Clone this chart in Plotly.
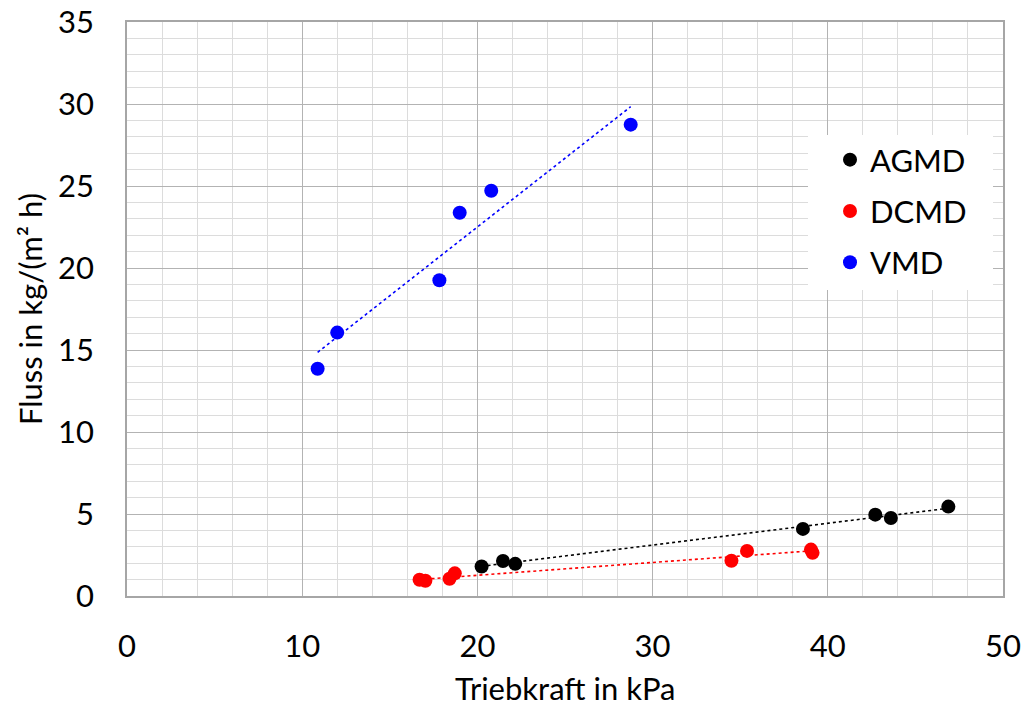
import numpy as np
import plotly.graph_objects as go

# Data
agmd_x = [20.24, 21.46, 22.16, 38.58, 42.71, 43.60, 46.88]
agmd_y = [1.80, 2.13, 1.96, 4.09, 4.96, 4.76, 5.45]

dcmd_x = [16.70, 17.03, 18.41, 18.71, 34.50, 35.39, 39.04, 39.13]
dcmd_y = [0.99, 0.93, 1.05, 1.38, 2.15, 2.75, 2.83, 2.63]

vmd_x = [10.88, 12.00, 17.83, 18.99, 20.79, 28.75]
vmd_y = [13.86, 16.06, 19.25, 23.37, 24.71, 28.74]

series_names = ["AGMD", "DCMD", "VMD"]
series_colors = ["#000000", "#ff0000", "#0000ff"]
x_ticks = [0, 10, 20, 30, 40, 50]
y_ticks = [0, 5, 10, 15, 20, 25, 30, 35]
x_title = "Triebkraft in kPa"
y_title = "Fluss in kg/(m² h)"

FONT = "Lato"
FS = 31
fig = go.Figure()

data = [(agmd_x, agmd_y), (dcmd_x, dcmd_y), (vmd_x, vmd_y)]

# trendlines (linear least squares)
for (xs, ys), name, col in zip(data, series_names, series_colors):
    xs_a = np.array(xs)
    ys_a = np.array(ys)
    k, d = np.polyfit(xs_a, ys_a, 1)
    xl = np.array([xs_a.min(), xs_a.max()])
    fig.add_trace(go.Scatter(
        x=xl, y=k * xl + d, mode="lines",
        line=dict(color=col, width=1.6, dash="dot"),
        showlegend=False, hoverinfo="skip"))

for (xs, ys), name, col in zip(data, series_names, series_colors):
    fig.add_trace(go.Scatter(
        x=xs, y=ys, mode="markers", name=name, legendgroup=name,
        marker=dict(color=col, size=14, line=dict(width=0))))

major = "#b3b3b3"
minor = "#dcdcdc"
axis_col = "#a6a6a6"

W, H = 1025, 706
L, T, R, B = 127, 22, 22, 110
pw = W - L - R
ph = H - T - B

def px(xp):  # pixel x -> paper x
    return (xp - L) / pw

def py(yp):  # pixel y -> paper y
    return 1 - (yp - T) / ph

fig.add_shape(type="rect", xref="paper", yref="paper",
              x0=px(808), x1=px(993), y0=py(290), y1=py(135),
              fillcolor="white", line=dict(width=0), layer="above")

fig.add_annotation(text=x_title, xref="paper", yref="paper",
                   x=0.5, y=py(688), xanchor="center", yanchor="middle",
                   showarrow=False, font=dict(family=FONT, size=FS, color="#000000"))

fig.update_layout(
    width=W, height=H,
    margin=dict(l=L, r=R, t=T, b=B, autoexpand=False),
    paper_bgcolor="white", plot_bgcolor="white",
    font=dict(family=FONT, size=FS, color="#000000"),
    showlegend=True,
    legend=dict(
        x=px(830), y=py(133), xanchor="left", yanchor="top",
        bgcolor="rgba(255,255,255,0)", borderwidth=0,
        font=dict(family=FONT, size=FS, color="#000000"),
        traceorder="grouped", tracegroupgap=8,
        itemsizing="trace",
    ),
    xaxis=dict(
        range=[0, 50], tickvals=x_ticks, ticks="", showline=True,
        linecolor=axis_col, linewidth=1.5, mirror=True,
        showgrid=True, gridcolor=major, gridwidth=1,
        zeroline=False,
        minor=dict(dtick=2, showgrid=True, gridcolor=minor, gridwidth=1),
        ticklabelstandoff=22, ticklabeloverflow="allow",
        tickfont=dict(family=FONT, size=FS),
        automargin=False,
    ),
    yaxis=dict(
        range=[0, 35], tickvals=y_ticks, ticks="", showline=True,
        linecolor=axis_col, linewidth=1.5, mirror=True,
        showgrid=True, gridcolor=major, gridwidth=1,
        zeroline=False,
        minor=dict(dtick=1, showgrid=True, gridcolor=minor, gridwidth=1),
        ticklabelstandoff=25, ticklabeloverflow="allow",
        title=dict(text=y_title, standoff=6,
                   font=dict(family=FONT, size=FS)),
        tickfont=dict(family=FONT, size=FS),
        automargin=False,
    ),
)

fig.write_html(
    "out.html",
    config={"displayModeBar": False},
    post_script="document.body.style.margin='0px';document.body.style.overflow='hidden';",
)
